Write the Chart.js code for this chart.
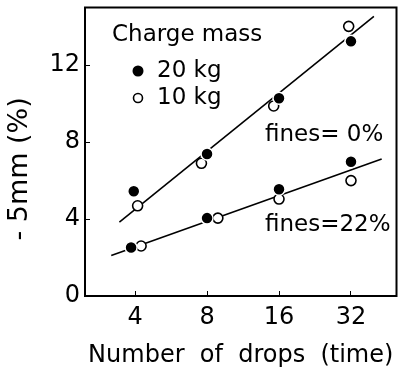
<!DOCTYPE html>
<html>
<head>
<meta charset="utf-8">
<script src="https://cdn.jsdelivr.net/npm/chart.js@4.4.1/dist/chart.umd.min.js"></script>
<style>
  html, body { margin: 0; padding: 0; background: #fff; }
</style>
</head>
<body>
<canvas id="c" width="404" height="378"></canvas>
<script>
const xTicks = [4, 8, 16, 32];
const yTicks = [0, 4, 8, 12];

// fines = 0 %
const f0kg20X = [3.95, 8, 16, 32];
const f0kg20Y = [5.45, 7.38, 10.28, 13.24];
const f0kg10X = [4.1, 7.58, 15.2, 31.3];
const f0kg10Y = [4.69, 6.9, 9.88, 14.02];
const f0fitX = [3.44, 39.9];
const f0fitY = [3.84, 14.54];

// fines = 22 %
const f22kg20X = [3.85, 8, 16, 32];
const f22kg20Y = [2.52, 4.05, 5.55, 6.98];
const f22kg10X = [4.24, 8.88, 16, 32];
const f22kg10Y = [2.6, 4.05, 5.04, 6.0];
const f22fitX = [3.18, 43];
const f22fitY = [2.1, 7.12];

const FONT = "'DejaVu Sans', sans-serif";

function pts(xs, ys) {
    return xs.map((x, i) => ({ x: x, y: ys[i] }));
}

function filled(xs, ys) {
    return {
        data: pts(xs, ys),
        showLine: false,
        pointRadius: 6,
        pointBackgroundColor: '#000',
        pointBorderColor: '#fff',
        pointBorderWidth: 1.5,
        order: 1
    };
}

function open(xs, ys) {
    return {
        data: pts(xs, ys),
        showLine: false,
        pointRadius: 5,
        pointBackgroundColor: '#fff',
        pointBorderColor: '#000',
        pointBorderWidth: 1.6,
        order: 2
    };
}

function fit(xs, ys) {
    return {
        data: pts(xs, ys),
        showLine: true,
        borderColor: '#000',
        borderWidth: 1.6,
        pointRadius: 0,
        fill: false,
        order: 10
    };
}

// box around the plot + the notes written inside it
const frame = {
    id: 'frame',
    afterDraw(chart) {
        const { ctx, chartArea: a } = chart;
        ctx.save();
        ctx.strokeStyle = '#000';
        ctx.lineWidth = 2;
        ctx.strokeRect(a.left, a.top, a.right - a.left, a.bottom - a.top);

        ctx.fillStyle = '#000';
        ctx.textBaseline = 'middle';
        ctx.textAlign = 'left';
        ctx.font = '23px ' + FONT;
        ctx.fillText('Charge mass', 112, 35);
        ctx.fillText('20 kg', 157, 71);
        ctx.fillText('10 kg', 157, 98);
        ctx.fillText('fines= 0%', 265, 135);
        ctx.fillText('fines=22%', 265, 225);

        ctx.beginPath();
        ctx.arc(138, 71, 5.5, 0, Math.PI * 2);
        ctx.fill();
        ctx.beginPath();
        ctx.lineWidth = 1.6;
        ctx.arc(138, 98, 4.5, 0, Math.PI * 2);
        ctx.stroke();
        ctx.restore();
    }
};

new Chart(document.getElementById('c').getContext('2d'), {
    type: 'scatter',
    data: {
        datasets: [
            filled(f0kg20X, f0kg20Y),
            open(f0kg10X, f0kg10Y),
            filled(f22kg20X, f22kg20Y),
            open(f22kg10X, f22kg10Y),
            fit(f0fitX, f0fitY),
            fit(f22fitX, f22fitY)
        ]
    },
    options: {
        responsive: false,
        animation: false,
        devicePixelRatio: 1,
        layout: { padding: { top: 7, right: 4, left: 0, bottom: 0 } },
        plugins: {
            legend: { display: false },
            tooltip: { enabled: false }
        },
        scales: {
            x: {
                type: 'logarithmic',
                min: 2.47,
                max: 49.6,
                afterBuildTicks: s => { s.ticks = xTicks.map(v => ({ value: v })); },
                afterFit: s => {
                    s.height = 82;
                    s.paddingLeft = 0;
                    s.paddingRight = 0;
                },
                ticks: {
                    color: '#000',
                    font: { family: FONT, size: 24 },
                    padding: 12,
                    maxRotation: 0,
                    callback: v => String(v)
                },
                grid: { drawOnChartArea: false, drawTicks: true, tickLength: -5, color: '#000', lineWidth: 1 },
                border: { display: true, color: '#000', width: 2 },
                title: {
                    display: true,
                    text: 'Number  of  drops  (time)',
                    color: '#000',
                    font: { family: FONT, size: 24 },
                    padding: { top: 0, bottom: 8 }
                }
            },
            y: {
                min: 0,
                max: 15,
                afterBuildTicks: s => { s.ticks = yTicks.map(v => ({ value: v })); },
                afterFit: s => {
                    s.width = 85;
                    s.paddingTop = 0;
                    s.paddingBottom = 0;
                },
                ticks: {
                    color: '#000',
                    font: { family: FONT, size: 24 },
                    padding: 10
                },
                grid: { drawOnChartArea: false, drawTicks: true, tickLength: -5, color: '#000', lineWidth: 1 },
                border: { display: true, color: '#000', width: 2 },
                title: {
                    display: true,
                    text: '- 5mm (%)    ',
                    color: '#000',
                    font: { family: FONT, size: 27 },
                    padding: { top: 4, bottom: 0 }
                }
            }
        }
    },
    plugins: [frame]
});
</script>
</body>
</html>
